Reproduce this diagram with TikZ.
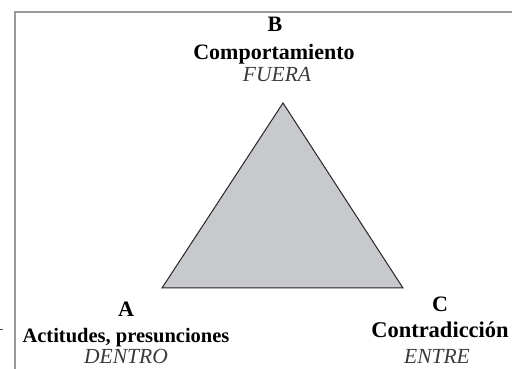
\documentclass[tikz,border=0pt]{standalone}
\usepackage{fontspec}
\setmainfont{Liberation Serif}
\definecolor{framegray}{HTML}{9A9A9A}
\definecolor{trifill}{HTML}{C8C9CC}
\definecolor{itgray}{HTML}{3A3A3A}
\tikzset{
  lbl/.style={anchor=base, inner sep=0pt, font=\fontsize{22}{26}\selectfont\bfseries, text=black},
  itl/.style={anchor=base, inner sep=0pt, font=\fontsize{21.5}{25}\selectfont\itshape, text=itgray},
  framel/.style={draw=framegray, line width=2pt},
  tri/.style={draw=black!85, fill=trifill, line width=1pt, line join=miter}
}
\begin{document}
\begin{tikzpicture}[x=1pt,y=1pt]
\useasboundingbox (0,0) rectangle (512,369);
\begin{scope}
\clip (0,0) rectangle (512,369);
\coordinate (f1) at (15,-5);
\coordinate (f2) at (15,357);
\coordinate (f3) at (520,357);
\draw[framel] (f1) -- (f2) -- (f3);
\end{scope}
\coordinate (t1) at (0,40);
\coordinate (t2) at (2.5,40);
\draw[black!70, line width=0.8pt] (t1) -- (t2);
% triangle
\coordinate (vB) at (283,266);
\coordinate (vA) at (162,81);
\coordinate (vC) at (403,81);
\draw[tri] (vA) -- (vB) -- (vC) -- cycle;
% labels
\node[lbl] (b1) at (275,337) {B};
\node[lbl] (b2) at (274,309) {Comportamiento};
\node[itl] (b3) at (277,287) {FUERA};
\node[lbl] (a1) at (126,52) {A};
\node[lbl, font=\fontsize{20.5}{25}\selectfont\bfseries] (a2) at (126,26) {Actitudes, presunciones};
\node[itl] (a3) at (126,5) {DENTRO};
\node[lbl] (c1) at (440,57) {C};
\node[lbl, font=\fontsize{22.5}{26}\selectfont\bfseries] (c2) at (440,31) {Contradicción};
\node[itl] (c3) at (437,5) {ENTRE};
\end{tikzpicture}
\end{document}
